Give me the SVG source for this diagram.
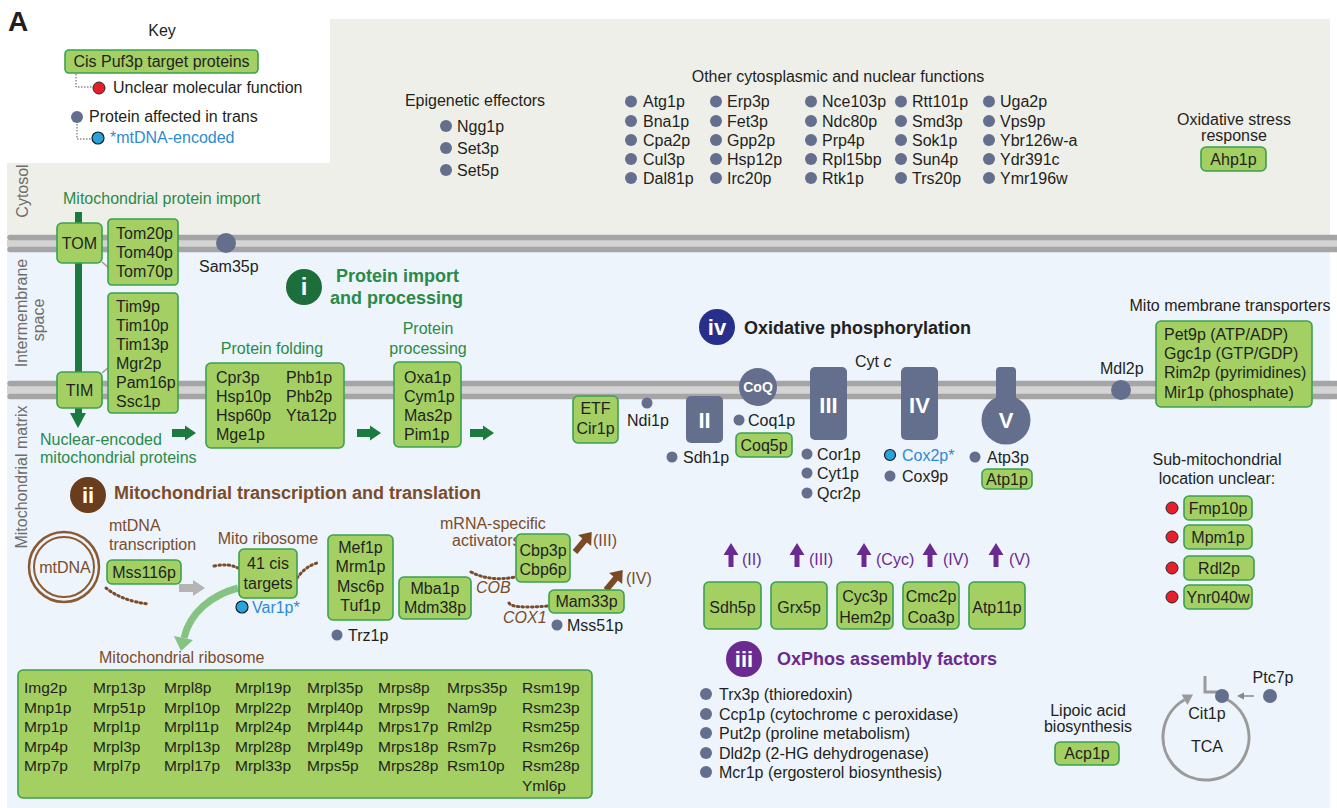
<svg xmlns="http://www.w3.org/2000/svg" width="1337" height="808" viewBox="0 0 1337 808">
<defs>
<style>
text{font-family:"Liberation Sans",Arial,Helvetica,sans-serif;font-size:16px;fill:#231f20}
.box{fill:#a3cf63;stroke:#3aa14f;stroke-width:1.6}
.dot{fill:#646f8e}
.red{fill:#e5202a;stroke:#2a2a2a;stroke-width:1}
.blue{fill:#27a3de;stroke:#1a1a1a;stroke-width:1.2}
.cx{fill:#646f8e}
.gt{fill:#2a8a48}
.bt{fill:#7a4c2a}
.pt{fill:#6a2a90}
.bl{fill:#2b8bd3}
.lbl{fill:#6d6d6d}
.c{text-anchor:middle}
.b{font-weight:bold;font-size:18px}
.w{fill:#fff;font-weight:bold;font-size:22px;text-anchor:middle}
.dash{fill:none;stroke:#7b4c29;stroke-width:3;stroke-dasharray:1.5 3.2;stroke-linecap:round}
.kd{fill:none;stroke:#555;stroke-width:1;stroke-dasharray:1.5 1.5}
.rb{font-size:15.5px}
.mem{stroke:#a5a5a5;stroke-width:5.5;stroke-linecap:round}
.garr{fill:#1c7a3e}
.parr{fill:#6a2a90}
.barr{fill:#7a4a24}
</style>
</defs>

<g id="background">
<rect width="1337" height="808" fill="#fff"/>
<rect x="7" y="19" width="1323" height="222" fill="#efefea"/>
<rect x="0" y="0" width="330" height="163" fill="#fff"/>
<rect x="7" y="244" width="1323" height="564" fill="#edf4fc"/>
<rect x="7" y="240" width="1330" height="7" fill="#d4d4d4"/>
<line class="mem" x1="10" y1="237.5" x2="1337" y2="237.5"/>
<line class="mem" x1="10" y1="249.5" x2="1337" y2="249.5"/>
<rect x="7" y="386" width="1330" height="8" fill="#d4d4d4"/>
<line class="mem" x1="10" y1="383.5" x2="1337" y2="383.5"/>
<line class="mem" x1="10" y1="396.5" x2="1337" y2="396.5"/>
</g>

<g id="compartment-labels">
<text class="lbl c" transform="translate(28,191) rotate(-90)">Cytosol</text>
<text class="lbl c" transform="translate(27,313) rotate(-90)">Intermembrane</text>
<text class="lbl c" transform="translate(44,320) rotate(-90)">space</text>
<text class="lbl c" transform="translate(27,477) rotate(-90)">Mitochondrial matrix</text>
</g>

<g id="panel-label"><text x="8" y="31" style="font-size:28px;font-weight:bold">A</text></g>

<g id="key">
<text x="162" y="36" class="c">Key</text>
<rect class="box" x="65" y="50" width="193" height="23" rx="4"/>
<text x="161.5" y="67" class="c">Cis Puf3p target proteins</text>
<path class="kd" d="M76,74 V87 H93"/>
<circle class="red" cx="99" cy="88" r="6"/>
<text x="113" y="93">Unclear molecular function</text>
<circle class="dot" cx="77" cy="117" r="6"/>
<text x="89" y="122">Protein affected in trans</text>
<path class="kd" d="M77,124 V139 H92"/>
<circle class="blue" cx="98" cy="138" r="6"/>
<text x="110" y="143" class="bl">*mtDNA-encoded</text>
</g>

<g id="epigenetic">
<text x="475" y="106" class="c">Epigenetic effectors</text>
<circle class="dot" cx="446" cy="126" r="6"/><text x="457" y="131.5">Ngg1p</text>
<circle class="dot" cx="446" cy="148" r="6"/><text x="457" y="153.5">Set3p</text>
<circle class="dot" cx="446" cy="170" r="6"/><text x="457" y="175.5">Set5p</text>
</g>

<g id="other-functions">
<text x="838" y="82" class="c">Other cytosplasmic and nuclear functions</text>
<g>
<circle class="dot" cx="631" cy="101.5" r="6"/><circle class="dot" cx="631" cy="121" r="6"/><circle class="dot" cx="631" cy="140" r="6"/><circle class="dot" cx="631" cy="159" r="6"/><circle class="dot" cx="631" cy="178" r="6"/>
<text x="643" y="107">Atg1p</text><text x="643" y="126.5">Bna1p</text><text x="643" y="145.5">Cpa2p</text><text x="643" y="164.5">Cul3p</text><text x="643" y="183.5">Dal81p</text>
</g>
<g>
<circle class="dot" cx="716" cy="101.5" r="6"/><circle class="dot" cx="716" cy="121" r="6"/><circle class="dot" cx="716" cy="140" r="6"/><circle class="dot" cx="716" cy="159" r="6"/><circle class="dot" cx="716" cy="178" r="6"/>
<text x="727" y="107">Erp3p</text><text x="727" y="126.5">Fet3p</text><text x="727" y="145.5">Gpp2p</text><text x="727" y="164.5">Hsp12p</text><text x="727" y="183.5">Irc20p</text>
</g>
<g>
<circle class="dot" cx="811" cy="101.5" r="6"/><circle class="dot" cx="811" cy="121" r="6"/><circle class="dot" cx="811" cy="140" r="6"/><circle class="dot" cx="811" cy="159" r="6"/><circle class="dot" cx="811" cy="178" r="6"/>
<text x="822" y="107">Nce103p</text><text x="822" y="126.5">Ndc80p</text><text x="822" y="145.5">Prp4p</text><text x="822" y="164.5">Rpl15bp</text><text x="822" y="183.5">Rtk1p</text>
</g>
<g>
<circle class="dot" cx="901" cy="101.5" r="6"/><circle class="dot" cx="901" cy="121" r="6"/><circle class="dot" cx="901" cy="140" r="6"/><circle class="dot" cx="901" cy="159" r="6"/><circle class="dot" cx="901" cy="178" r="6"/>
<text x="912" y="107">Rtt101p</text><text x="912" y="126.5">Smd3p</text><text x="912" y="145.5">Sok1p</text><text x="912" y="164.5">Sun4p</text><text x="912" y="183.5">Trs20p</text>
</g>
<g>
<circle class="dot" cx="989" cy="101.5" r="6"/><circle class="dot" cx="989" cy="121" r="6"/><circle class="dot" cx="989" cy="140" r="6"/><circle class="dot" cx="989" cy="159" r="6"/><circle class="dot" cx="989" cy="178" r="6"/>
<text x="1000" y="107">Uga2p</text><text x="1000" y="126.5">Vps9p</text><text x="1000" y="145.5">Ybr126w-a</text><text x="1000" y="164.5">Ydr391c</text><text x="1000" y="183.5">Ymr196w</text>
</g>
</g>

<g id="oxidative-stress">
<text x="1234" y="125" class="c">Oxidative stress</text>
<text x="1234" y="141" class="c">response</text>
<rect class="box" x="1201" y="147" width="65" height="24" rx="5"/>
<text x="1233.5" y="164.5" class="c">Ahp1p</text>
</g>

<g id="connectors">
<rect class="garr" x="75" y="212" width="7" height="202"/>
<polygon class="garr" points="70,413 86,413 78,428"/>
<line x1="102" y1="262" x2="109" y2="268" stroke="#9a9a9a" stroke-width="1.5"/>
<line x1="102" y1="373" x2="109" y2="367" stroke="#9a9a9a" stroke-width="1.5"/>
<path class="garr" d="M172,429 h13 v-3.5 l11,7.5 l-11,7.5 v-3.5 h-13 z"/>
<path class="garr" d="M357,429 h13 v-3.5 l11,7.5 l-11,7.5 v-3.5 h-13 z"/>
<path class="garr" d="M470,429 h13 v-3.5 l11,7.5 l-11,7.5 v-3.5 h-13 z"/>
<path fill="#b4b4b4" d="M179,584 h14 v-4 l12,8 l-12,8 v-4 h-14 z"/>
<path class="dash" d="M106,588 Q122,601 149,604"/>
<path class="dash" d="M214,566 Q228,563 238,568"/>
<path class="dash" d="M297,578 Q306,566 317,563"/>
<path class="dash" d="M471,572 Q490,582 515,577"/>
<path class="dash" d="M509,603 Q512,609 548,606"/>
<path d="M238,588 C212,595 190,612 184,638" fill="none" stroke="#84c381" stroke-width="7"/>
<polygon points="181,651 174,636 193,640" fill="#84c381"/>
<path class="barr" transform="translate(575,552) rotate(-50)" d="M0,-3 h15 v-5.5 l11,8.5 l-11,8.5 v-5.5 h-15 z"/>
<path class="barr" transform="translate(606,590) rotate(-50)" d="M0,-3 h15 v-5.5 l11,8.5 l-11,8.5 v-5.5 h-15 z"/>
<path class="parr" d="M728.5,567 v-12 h-5 l7.5,-12 l7.5,12 h-5 v12 z"/>
<path class="parr" d="M794.5,567 v-12 h-5 l7.5,-12 l7.5,12 h-5 v12 z"/>
<path class="parr" d="M861.5,567 v-12 h-5 l7.5,-12 l7.5,12 h-5 v12 z"/>
<path class="parr" d="M927.5,567 v-12 h-5 l7.5,-12 l7.5,12 h-5 v12 z"/>
<path class="parr" d="M993.5,567 v-12 h-5 l7.5,-12 l7.5,12 h-5 v12 z"/>
<path d="M1221.4,696.9 A43,43 0 1 1 1184.5,699.8" fill="none" stroke="#9a9a9a" stroke-width="3"/>
<polygon points="1193,694.5 1181.5,694.5 1187.5,705" fill="#9a9a9a"/>
<path d="M1205,676 V692 H1220" fill="none" stroke="#9a9a9a" stroke-width="3"/>
<line x1="1254" y1="696" x2="1242" y2="696" stroke="#888" stroke-width="1.5"/>
<polygon points="1237,696 1244,692.5 1244,699.5" fill="#888"/>
</g>

<g id="import">
<text x="63" y="204" class="gt">Mitochondrial protein import</text>
<g id="tom"><rect class="box" x="57" y="223" width="45" height="40" rx="5"/><text x="79.5" y="248.5" class="c">TOM</text></g>
<g id="tom-proteins"><rect class="box" x="108" y="219" width="70" height="66" rx="4"/>
<text x="116" y="238.5">Tom20p</text><text x="116" y="257.5">Tom40p</text><text x="116" y="276.5">Tom70p</text></g>
<g id="tim-proteins"><rect class="box" x="108" y="293" width="70" height="120" rx="4"/>
<text x="116" y="311.5">Tim9p</text><text x="116" y="330.5">Tim10p</text><text x="116" y="349.5">Tim13p</text><text x="116" y="368.5">Mgr2p</text><text x="116" y="387.5">Pam16p</text><text x="116" y="407">Ssc1p</text></g>
<g id="tim"><rect class="box" x="57" y="372" width="45" height="36" rx="5"/><text x="79.5" y="395.5" class="c">TIM</text></g>
<g id="sam35"><circle class="dot" cx="226" cy="243" r="10"/><text x="199" y="272">Sam35p</text></g>
<g id="title-i">
<circle cx="304" cy="287" r="18" fill="#1c6e3a"/>
<text x="304" y="295" class="w" style="font-size:24px">i</text>
<text x="336" y="282" class="b gt">Protein import</text>
<text x="330" y="304" class="b gt">and processing</text>
</g>
<text x="40" y="444.5" class="gt">Nuclear-encoded</text>
<text x="40" y="462.5" class="gt">mitochondrial proteins</text>
<g id="folding">
<text x="272" y="354" class="c gt">Protein folding</text>
<rect class="box" x="206" y="363" width="138" height="85" rx="5"/>
<text x="216" y="382.5">Cpr3p</text><text x="216" y="401.5">Hsp10p</text><text x="216" y="420.5">Hsp60p</text><text x="216" y="439.5">Mge1p</text>
<text x="286" y="382.5">Phb1p</text><text x="286" y="401.5">Phb2p</text><text x="286" y="420.5">Yta12p</text>
</g>
<g id="processing">
<text x="428" y="333.5" class="c gt">Protein</text>
<text x="428" y="353.5" class="c gt">processing</text>
<rect class="box" x="394" y="362" width="67" height="85" rx="5"/>
<text x="404" y="382.5">Oxa1p</text><text x="404" y="401.5">Cym1p</text><text x="404" y="420.5">Mas2p</text><text x="404" y="439.5">Pim1p</text>
</g>
</g>

<g id="oxphos">
<circle cx="717" cy="327" r="18" fill="#272f8a"/>
<text x="717" y="335" class="w" style="font-size:22px">iv</text>
<text x="744" y="334" class="b">Oxidative phosphorylation</text>
<text x="855" y="367">Cyt <tspan font-style="italic">c</tspan></text>
<g id="etf"><rect class="box" x="573" y="396" width="45" height="47" rx="5"/>
<text x="595.5" y="414" class="c">ETF</text><text x="595.5" y="434" class="c">Cir1p</text></g>
<g id="ndi1"><circle class="dot" cx="647" cy="403" r="5.5"/><text x="627" y="426">Ndi1p</text></g>
<g id="complex-II"><rect class="cx" x="686" y="396" width="37" height="47" rx="5"/><text x="704.5" y="428" class="w">II</text></g>
<g id="sdh1"><circle class="dot" cx="672" cy="457" r="5.5"/><text x="683" y="462.5">Sdh1p</text></g>
<g id="coq"><circle class="cx" cx="758" cy="387" r="19"/><text x="758" y="392" class="w" style="font-size:14px">CoQ</text></g>
<g id="coq1"><circle class="dot" cx="739" cy="420" r="5.5"/><text x="748" y="425.5">Coq1p</text></g>
<g id="coq5"><rect class="box" x="736" y="433" width="56" height="24" rx="5"/><text x="764" y="450.5" class="c">Coq5p</text></g>
<g id="complex-III"><rect class="cx" x="810" y="367" width="37" height="73" rx="5"/><text x="828.5" y="413" class="w">III</text></g>
<g id="complex-III-proteins">
<circle class="dot" cx="807" cy="454" r="5.5"/><text x="817" y="459.5">Cor1p</text>
<circle class="dot" cx="807" cy="473" r="5.5"/><text x="817" y="478.5">Cyt1p</text>
<circle class="dot" cx="807" cy="493" r="5.5"/><text x="817" y="498.5">Qcr2p</text>
</g>
<g id="complex-IV"><rect class="cx" x="901" y="367" width="37" height="73" rx="5"/><text x="919.5" y="413" class="w">IV</text></g>
<g id="complex-IV-proteins">
<circle class="blue" cx="890" cy="455" r="5.5"/><text x="902" y="460.5" class="bl">Cox2p*</text>
<circle class="dot" cx="890" cy="476" r="5.5"/><text x="902" y="481.5">Cox9p</text>
</g>
<g id="complex-V"><rect class="cx" x="996" y="367" width="20" height="40" rx="4"/><circle class="cx" cx="1006" cy="420" r="24.5"/><text x="1006" y="428" class="w">V</text></g>
<g id="complex-V-proteins">
<circle class="dot" cx="975" cy="457" r="5.5"/><text x="987" y="462.5">Atp3p</text>
<rect class="box" x="982" y="469" width="50" height="20" rx="5"/><text x="1007" y="484.5" class="c">Atp1p</text>
</g>
</g>

<g id="transporters">
<text x="1230" y="311" class="c">Mito membrane transporters</text>
<g id="mdl2"><circle class="dot" cx="1121" cy="390" r="10"/><text x="1100" y="374">Mdl2p</text></g>
<rect class="box" x="1156" y="321" width="156" height="86" rx="5"/>
<text x="1164" y="339.5">Pet9p (ATP/ADP)</text>
<text x="1164" y="358.5">Ggc1p (GTP/GDP)</text>
<text x="1164" y="378">Rim2p (pyrimidines)</text>
<text x="1164" y="397.5">Mir1p (phosphate)</text>
</g>

<g id="sub-mito-unclear">
<text x="1217" y="465" class="c">Sub-mitochondrial</text>
<text x="1217" y="484" class="c">location unclear:</text>
<circle class="red" cx="1172" cy="508" r="6"/><rect class="box" x="1184" y="496" width="68" height="24" rx="5"/><text x="1218" y="513.5" class="c">Fmp10p</text>
<circle class="red" cx="1172" cy="537" r="6"/><rect class="box" x="1184" y="525" width="68" height="24" rx="5"/><text x="1218" y="542.5" class="c">Mpm1p</text>
<circle class="red" cx="1172" cy="568" r="6"/><rect class="box" x="1184" y="556" width="70" height="24" rx="5"/><text x="1219" y="573.5" class="c">Rdl2p</text>
<circle class="red" cx="1172" cy="597" r="6"/><rect class="box" x="1184" y="585" width="68" height="24" rx="5"/><text x="1218" y="602.5" class="c">Ynr040w</text>
</g>

<g id="transcription">
<circle cx="88" cy="495" r="18" fill="#6a3d1c"/>
<text x="88" y="503" class="w" style="font-size:22px">ii</text>
<text x="114" y="499" class="b bt">Mitochondrial transcription and translation</text>
<g id="mtdna"><circle cx="64" cy="567" r="35" fill="none" stroke="#8a5a33" stroke-width="2.5"/><circle cx="64" cy="567" r="30" fill="none" stroke="#8a5a33" stroke-width="2"/>
<text x="65" y="572.5" class="c bt">mtDNA</text></g>
<text x="109" y="531" class="bt">mtDNA</text>
<text x="109" y="550" class="bt">transcription</text>
<g id="mss116"><rect class="box" x="107" y="560" width="74" height="24" rx="5"/><text x="144" y="577.5" class="c">Mss116p</text></g>
<text x="268" y="543.5" class="c bt">Mito ribosome</text>
<g id="cis-targets"><rect class="box" x="239" y="549" width="58" height="49" rx="5"/>
<text x="268" y="568.5" class="c">41 cis</text><text x="268" y="588.5" class="c">targets</text></g>
<g id="var1"><circle class="blue" cx="242" cy="607" r="6"/><text x="252" y="612.5" class="bl">Var1p*</text></g>
<text x="99" y="662.5" class="bt">Mitochondrial ribosome</text>
<g id="mef1"><rect class="box" x="328" y="535" width="65" height="85" rx="5"/>
<text x="360.5" y="552.5" class="c">Mef1p</text><text x="360.5" y="572" class="c">Mrm1p</text><text x="360.5" y="591.5" class="c">Msc6p</text><text x="360.5" y="611" class="c">Tuf1p</text></g>
<g id="trz1"><circle class="dot" cx="337" cy="635" r="5.5"/><text x="348" y="640.5">Trz1p</text></g>
<g id="mba1"><rect class="box" x="399" y="577" width="72" height="42" rx="5"/>
<text x="435" y="593.5" class="c">Mba1p</text><text x="435" y="613" class="c">Mdm38p</text></g>
<text x="476" y="592.5" class="bt" font-style="italic">COB</text>
<text x="440" y="528.5" class="bt">mRNA-specific</text>
<text x="452" y="545.5" class="bt">activators</text>
<g id="cbp3"><rect class="box" x="516" y="534" width="54" height="48" rx="5"/>
<text x="543" y="555.5" class="c">Cbp3p</text><text x="543" y="574.5" class="c">Cbp6p</text></g>
<text x="593" y="545.5" class="bt">(III)</text>
<g id="mam33"><rect class="box" x="549" y="590" width="75" height="23" rx="5"/><text x="586.5" y="607" class="c">Mam33p</text></g>
<text x="626" y="584" class="bt">(IV)</text>
<text x="503" y="623" class="bt" font-style="italic">COX1</text>
<g id="mss51"><circle class="dot" cx="557" cy="625" r="5.5"/><text x="567" y="630.5">Mss51p</text></g>
</g>

<g id="mito-ribosome">
<rect class="box" x="18" y="670" width="574" height="128" rx="5"/>
<g class="rb">
<text class="rb" x="24" y="693">Img2p</text><text class="rb" x="24" y="712.5">Mnp1p</text><text class="rb" x="24" y="732">Mrp1p</text><text class="rb" x="24" y="751.5">Mrp4p</text><text class="rb" x="24" y="771">Mrp7p</text>
<text class="rb" x="93" y="693">Mrp13p</text><text class="rb" x="93" y="712.5">Mrp51p</text><text class="rb" x="93" y="732">Mrpl1p</text><text class="rb" x="93" y="751.5">Mrpl3p</text><text class="rb" x="93" y="771">Mrpl7p</text>
<text class="rb" x="164" y="693">Mrpl8p</text><text class="rb" x="164" y="712.5">Mrpl10p</text><text class="rb" x="164" y="732">Mrpl11p</text><text class="rb" x="164" y="751.5">Mrpl13p</text><text class="rb" x="164" y="771">Mrpl17p</text>
<text class="rb" x="235" y="693">Mrpl19p</text><text class="rb" x="235" y="712.5">Mrpl22p</text><text class="rb" x="235" y="732">Mrpl24p</text><text class="rb" x="235" y="751.5">Mrpl28p</text><text class="rb" x="235" y="771">Mrpl33p</text>
<text class="rb" x="307" y="693">Mrpl35p</text><text class="rb" x="307" y="712.5">Mrpl40p</text><text class="rb" x="307" y="732">Mrpl44p</text><text class="rb" x="307" y="751.5">Mrpl49p</text><text class="rb" x="307" y="771">Mrps5p</text>
<text class="rb" x="378" y="693">Mrps8p</text><text class="rb" x="378" y="712.5">Mrps9p</text><text class="rb" x="378" y="732">Mrps17p</text><text class="rb" x="378" y="751.5">Mrps18p</text><text class="rb" x="378" y="771">Mrps28p</text>
<text class="rb" x="447" y="693">Mrps35p</text><text class="rb" x="447" y="712.5">Nam9p</text><text class="rb" x="447" y="732">Rml2p</text><text class="rb" x="447" y="751.5">Rsm7p</text><text class="rb" x="447" y="771">Rsm10p</text>
<text class="rb" x="522" y="693">Rsm19p</text><text class="rb" x="522" y="712.5">Rsm23p</text><text class="rb" x="522" y="732">Rsm25p</text><text class="rb" x="522" y="751.5">Rsm26p</text><text class="rb" x="522" y="771">Rsm28p</text><text class="rb" x="522" y="790.5">Yml6p</text>
</g>
</g>

<g id="assembly">
<text x="742" y="565" class="pt">(II)</text>
<text x="809" y="565" class="pt">(III)</text>
<text x="876" y="565" class="pt">(Cyc)</text>
<text x="943" y="565" class="pt">(IV)</text>
<text x="1009" y="565" class="pt">(V)</text>
<g id="sdh5"><rect class="box" x="704" y="582" width="57" height="47" rx="5"/><text x="732.5" y="612.5" class="c">Sdh5p</text></g>
<g id="grx5"><rect class="box" x="771" y="582" width="56" height="47" rx="5"/><text x="799" y="612.5" class="c">Grx5p</text></g>
<g id="cyc3"><rect class="box" x="837" y="582" width="56" height="47" rx="5"/><text x="865" y="601.5" class="c">Cyc3p</text><text x="865" y="622.5" class="c">Hem2p</text></g>
<g id="cmc2"><rect class="box" x="903" y="582" width="56" height="47" rx="5"/><text x="931" y="601.5" class="c">Cmc2p</text><text x="931" y="622.5" class="c">Coa3p</text></g>
<g id="atp11"><rect class="box" x="969" y="582" width="56" height="47" rx="5"/><text x="997" y="612.5" class="c">Atp11p</text></g>
<circle cx="744" cy="659" r="18" fill="#6a2a90"/>
<text x="744" y="667" class="w" style="font-size:22px">iii</text>
<text x="777" y="664.5" class="b pt">OxPhos assembly factors</text>
<circle class="dot" cx="706" cy="694" r="6"/><text x="719" y="699.5">Trx3p (thioredoxin)</text>
<circle class="dot" cx="706" cy="714" r="6"/><text x="719" y="719.5">Ccp1p (cytochrome c peroxidase)</text>
<circle class="dot" cx="706" cy="733" r="6"/><text x="719" y="738.5">Put2p (proline metabolism)</text>
<circle class="dot" cx="706" cy="753" r="6"/><text x="719" y="758.5">Dld2p (2-HG dehydrogenase)</text>
<circle class="dot" cx="706" cy="772" r="6"/><text x="719" y="777.5">Mcr1p (ergosterol biosynthesis)</text>
</g>

<g id="lipoic">
<text x="1088" y="716" class="c">Lipoic acid</text>
<text x="1088" y="732" class="c">biosynthesis</text>
<rect class="box" x="1055" y="742" width="64" height="23" rx="5"/>
<text x="1087" y="759" class="c">Acp1p</text>
</g>

<g id="tca">
<circle class="dot" cx="1222" cy="696" r="7"/>
<circle class="dot" cx="1270" cy="696" r="7"/>
<text x="1273" y="683" class="c">Ptc7p</text>
<text x="1207" y="718.5" class="c">Cit1p</text>
<text x="1207" y="751.5" class="c">TCA</text>
</g>
</svg>
